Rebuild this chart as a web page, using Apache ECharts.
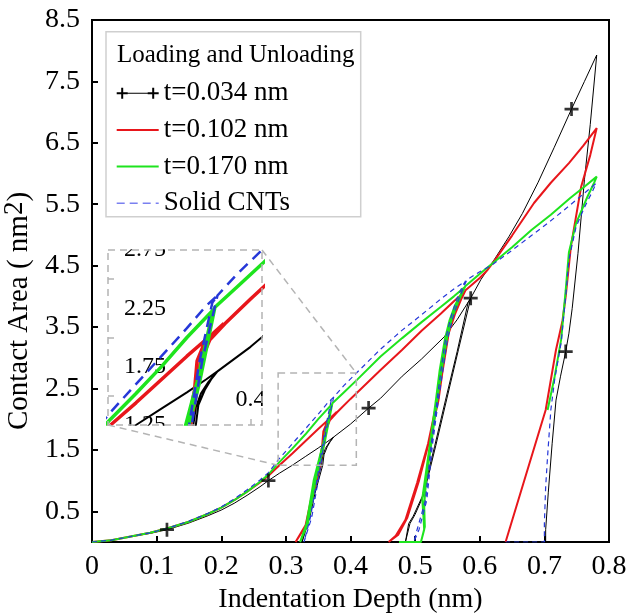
<!DOCTYPE html>
<html>
<head>
<meta charset="utf-8">
<script src="https://cdn.jsdelivr.net/npm/echarts@6/dist/echarts.min.js"></script>
<style>
html,body{margin:0;padding:0;background:#fff}
#chart{width:627px;height:613px}
</style>
</head>
<body>
<div id="chart"></div>
<script>
// Contact area vs indentation depth: load, partial unload/reload cycles, final unload.
const xTicks = [0, 0.1, 0.2, 0.3, 0.4, 0.5, 0.6, 0.7, 0.8];
const yTickLabels = [0.5, 1.5, 2.5, 3.5, 4.5, 5.5, 6.5, 7.5, 8.5];

// t = 0.034 nm wall thickness
const t034 = [
  [0,0],[0.03,0.03],[0.06,0.09],[0.09,0.14],[0.116,0.2],[0.15,0.31],[0.18,0.43],[0.2,0.52],
  [0.22,0.63],[0.24,0.76],[0.26,0.9],[0.273,1.0],[0.29,1.12],[0.31,1.25],[0.33,1.39],
  [0.35,1.53],[0.365,1.64],[0.374,1.71],
  [0.367,1.62],[0.361,1.52],[0.357,1.4],[0.355,1.25],[0.343,0.79],[0.335,0.4],[0.325,0],
  [0.327,0],[0.337,0.4],[0.345,0.79],[0.357,1.25],[0.359,1.42],[0.364,1.55],[0.369,1.64],[0.374,1.71],
  [0.4,1.92],[0.428,2.18],[0.4465,2.34],[0.48,2.7],[0.51,2.98],[0.545,3.34],[0.565,3.62],[0.586,3.97],
  [0.582,3.9],[0.565,3.1],[0.547,2.31],[0.53,1.55],[0.511,0.74],[0.497,0.42],[0.49,0.3],[0.485,0],
  [0.487,0],[0.492,0.3],[0.5,0.45],[0.513,0.76],[0.532,1.57],[0.549,2.33],[0.567,3.13],[0.586,3.97],
  [0.6016,4.27],[0.622,4.59],[0.645,4.97],[0.666,5.35],[0.69,5.85],[0.715,6.42],[0.742,7.05],
  [0.762,7.5],[0.781,7.93],
  [0.771,6.8],[0.762,5.9],[0.752,4.7],[0.743,3.8],[0.738,3.4],[0.733,3.1],[0.725,2.7],
  [0.718,2.31],[0.712,1.6],[0.706,0.8],[0.702,0.2],[0.702,0]
];
// marker points along the t = 0.034 nm curve
const t034Marks = [[0.116,0.2],[0.273,1.0],[0.428,2.18],[0.586,3.97],[0.742,7.05],[0.733,3.1]];

// t = 0.102 nm
const t102 = [
  [0,0],[0.03,0.03],[0.06,0.09],[0.09,0.15],[0.116,0.22],[0.15,0.33],[0.18,0.46],[0.2,0.56],
  [0.22,0.68],[0.24,0.82],[0.26,0.97],[0.273,1.08],[0.29,1.25],[0.31,1.44],[0.33,1.64],
  [0.35,1.84],[0.37,2.03],[0.379,2.12],
  [0.372,2.04],[0.364,1.96],[0.358,1.8],[0.356,1.55],[0.35,1.2],[0.34,0.74],[0.33,0.25],[0.315,0],
  [0.318,0],[0.332,0.3],[0.342,0.76],[0.352,1.2],[0.358,1.55],[0.361,1.8],[0.368,1.98],[0.38,2.12],
  [0.4,2.33],[0.4465,2.8],[0.48,3.13],[0.51,3.44],[0.54,3.72],[0.56,3.92],[0.575,4.06],
  [0.57,3.95],[0.56,3.7],[0.55,3.4],[0.54,2.75],[0.534,2.3],[0.52,1.6],[0.503,0.96],[0.485,0.36],
  [0.47,0.1],[0.459,0],
  [0.462,0],[0.474,0.12],[0.488,0.4],[0.506,1.0],[0.522,1.65],[0.536,2.3],[0.542,2.75],[0.552,3.4],
  [0.562,3.72],[0.572,3.97],[0.578,4.1],
  [0.6,4.3],[0.612,4.43],[0.622,4.57],[0.65,4.99],[0.684,5.52],[0.71,5.85],[0.738,6.17],
  [0.76,6.45],[0.781,6.74],
  [0.771,6.3],[0.757,5.79],[0.741,4.81],[0.733,4.0],[0.728,3.6],[0.718,3.13],[0.702,2.15],[0.64,0]
];

// t = 0.170 nm
const t170 = [
  [0,0],[0.03,0.03],[0.06,0.09],[0.09,0.15],[0.116,0.22],[0.15,0.33],[0.18,0.46],[0.2,0.56],
  [0.22,0.68],[0.24,0.82],[0.26,0.98],[0.273,1.1],[0.29,1.3],[0.31,1.52],[0.33,1.75],
  [0.35,2.0],[0.371,2.24],
  [0.369,2.16],[0.358,1.62],[0.343,1.0],[0.332,0.3],[0.322,0],
  [0.324,0],[0.334,0.3],[0.346,1.0],[0.36,1.62],[0.372,2.26],
  [0.39,2.44],[0.41,2.64],[0.4465,3.02],[0.48,3.32],[0.51,3.58],[0.54,3.83],[0.56,4.0],[0.577,4.15],
  [0.573,4.08],[0.562,3.86],[0.553,3.6],[0.546,3.3],[0.538,2.8],[0.532,2.3],[0.523,1.6],[0.515,1.0],
  [0.511,0.7],[0.513,0.4],[0.514,0.2],[0.509,0],[0.475,0],
  [0.509,0],[0.515,0.25],[0.514,0.6],[0.517,1.0],[0.525,1.6],[0.534,2.3],[0.541,2.8],[0.549,3.3],
  [0.557,3.64],[0.567,3.92],[0.578,4.17],
  [0.6016,4.38],[0.62,4.54],[0.65,4.8],[0.68,5.08],[0.71,5.33],[0.74,5.6],[0.76,5.77],[0.781,5.95],
  [0.777,5.85],[0.767,5.63],[0.749,5.19],[0.738,4.72],[0.733,4.1],[0.726,3.3],[0.716,2.7],[0.705,2.15]
];

// solid CNTs
const solid = [
  [0,0],[0.03,0.03],[0.06,0.09],[0.09,0.15],[0.116,0.22],[0.15,0.34],[0.18,0.47],[0.2,0.57],
  [0.22,0.7],[0.24,0.85],[0.26,1.01],[0.273,1.13],[0.29,1.36],[0.31,1.6],[0.33,1.84],
  [0.35,2.08],[0.365,2.27],[0.374,2.36],
  [0.37,2.3],[0.36,1.8],[0.348,1.0],[0.338,0.4],[0.328,0],
  [0.33,0],[0.34,0.4],[0.35,1.0],[0.362,1.8],[0.374,2.36],
  [0.39,2.55],[0.41,2.76],[0.4465,3.14],[0.48,3.45],[0.51,3.7],[0.54,3.96],[0.56,4.12],[0.578,4.25],
  [0.574,4.18],[0.564,3.95],[0.555,3.65],[0.547,3.3],[0.54,2.8],[0.534,2.31],[0.525,1.6],
  [0.516,0.68],[0.503,0.2],[0.498,0],
  [0.5,0],[0.506,0.2],[0.518,0.68],[0.527,1.6],[0.536,2.31],[0.543,2.8],[0.55,3.3],[0.559,3.67],
  [0.568,3.97],[0.58,4.27],
  [0.6,4.4],[0.62,4.52],[0.65,4.75],[0.68,4.99],[0.705,5.19],[0.73,5.4],[0.755,5.62],[0.78,5.84],
  [0.774,5.7],[0.762,5.45],[0.749,5.13],[0.738,4.6],[0.733,4.0],[0.726,3.25],[0.716,2.65],
  [0.71,2.15],[0.705,1.4],[0.702,0.9],[0.7,0.3],[0.7,0],[0.64,0]
];

// zoomed window shown in the inset
const insetX = [0.288, 0.409];
const insetY = [1.25, 2.75];
const insetXLabels = [0.4];
const insetYLabels = [1.25, 1.75, 2.25, 2.75];
const insetYTicks = [1.5, 2.0, 2.5];

const names = ['t=0.034 nm', 't=0.102 nm', 't=0.170 nm', 'Solid CNTs'];
const colors = { black: '#000000', red: '#e8161b', green: '#1ee41e', blue: '#2638d8' };
const serif = '"Liberation Serif", "Times New Roman", serif';
const gray = '#b4b4b4';

const mainGrid = { left: 92, top: 20, width: 517, height: 522 };
const insetGrid = { left: 108, top: 250, width: 154, height: 175 };

const plusPath = 'path://M0,5.25H13V7.75H0Z M5.25,0H7.75V13H5.25Z';

function lineSeries(name, data, color, width, dashed, inset) {
  return {
    type: 'line', name, data,
    xAxisIndex: inset ? 1 : 0, yAxisIndex: inset ? 1 : 0,
    symbol: 'none', smooth: false, clip: true, silent: true, animation: false,
    lineStyle: { color, width, type: dashed ? (inset ? [11, 7] : [5, 4]) : 'solid' },
    itemStyle: { color },
    z: inset ? 5 : 2
  };
}

const chart = echarts.init(document.getElementById('chart'), null, { renderer: 'canvas' });

const option = {
  backgroundColor: '#fff',
  animation: false,
  textStyle: { fontFamily: serif },
  title: {
    text: 'Loading and Unloading', left: 117, top: 43, padding: 0,
    textStyle: { fontFamily: serif, fontSize: 25, fontWeight: 'normal', color: '#000' }
  },
  legend: {
    orient: 'vertical', left: 116.7, top: 79.7, padding: 0,
    itemWidth: 42, itemHeight: 24, itemGap: 9.7, symbolKeepAspect: true,
    textStyle: { fontFamily: serif, fontSize: 27, color: '#000', lineHeight: 24 },
    data: [
      { name: names[0], icon: 'path://M0,4.5H11V6.5H0Z M4.5,0H6.5V11H4.5Z M11,5H31V6H11Z M31,4.5H42V6.5H31Z M35.5,0H37.5V11H35.5Z' },
      { name: names[1], icon: 'path://M0,0H42V2H0Z' },
      { name: names[2], icon: 'path://M0,0H42V2H0Z' },
      { name: names[3], icon: 'path://M0,0H8V1.5H0Z M13,0H21V1.5H13Z M26,0H34V1.5H26Z M39,0H42V1.5H39Z', itemStyle: { color: '#7a80f0' } }
    ]
  },
  grid: [
    Object.assign({ show: true, borderColor: '#000', borderWidth: 2, backgroundColor: 'transparent',
      containLabel: false, outerBoundsMode: 'none' }, mainGrid),
    Object.assign({ show: false, containLabel: false, outerBoundsMode: 'none' }, insetGrid)
  ],
  xAxis: [
    {
      type: 'value', gridIndex: 0, min: 0, max: 0.8, interval: 0.1,
      name: 'Indentation Depth (nm)', nameLocation: 'middle', nameGap: 35,
      nameTextStyle: { fontFamily: serif, fontSize: 28, color: '#000' },
      axisLine: { lineStyle: { color: '#000', width: 2 } },
      axisTick: { inside: true, length: 6, lineStyle: { color: '#000', width: 2 } },
      axisLabel: {
        customValues: xTicks, margin: 11, fontFamily: serif, fontSize: 28, color: '#000',
        formatter: v => (v === 0 ? '0' : v.toFixed(1))
      },
      splitLine: { show: false }
    },
    {
      type: 'value', gridIndex: 1, min: insetX[0], max: insetX[1],
      axisLine: { show: false },
      axisTick: { customValues: insetXLabels, inside: true, length: 6, lineStyle: { color: gray, width: 1.5 } },
      axisLabel: {
        customValues: insetXLabels, inside: true, margin: 13,
        fontFamily: serif, fontSize: 24, color: '#000', formatter: v => v.toFixed(1)
      },
      splitLine: { show: false }
    }
  ],
  yAxis: [
    {
      type: 'value', gridIndex: 0, min: 0, max: 8.5,
      name: '{a|Contact Area ( nm}{s|2}{a|)}', nameLocation: 'middle', nameGap: 49,
      nameTextStyle: {
        padding: [0, 60, 0, 0],
        rich: {
          a: { fontFamily: serif, fontSize: 29, color: '#000' },
          s: { fontFamily: serif, fontSize: 27, color: '#000', padding: [0, 0, 9, 0] }
        }
      },
      axisLine: { lineStyle: { color: '#000', width: 2 } },
      axisTick: { customValues: yTickLabels, inside: true, length: 6, lineStyle: { color: '#000', width: 2 } },
      axisLabel: {
        customValues: yTickLabels, margin: 12, fontFamily: serif, fontSize: 28, color: '#000',
        formatter: v => v.toFixed(1)
      },
      splitLine: { show: false }
    },
    {
      type: 'value', gridIndex: 1, min: insetY[0], max: insetY[1],
      axisLine: { show: false },
      axisTick: { customValues: insetYTicks, inside: true, length: 6, lineStyle: { color: gray, width: 1.5 } },
      axisLabel: {
        customValues: insetYLabels, inside: true, margin: 16,
        fontFamily: serif, fontSize: 24, color: '#000', formatter: v => v.toFixed(2)
      },
      splitLine: { show: false }
    }
  ],
  series: [
    lineSeries(names[0], t034, colors.black, 1, false, false),
    lineSeries(names[1], t102, colors.red, 2, false, false),
    lineSeries(names[2], t170, colors.green, 2, false, false),
    lineSeries(names[3], solid, colors.blue, 1.2, true, false),
    {
      type: 'scatter', name: names[0], data: t034Marks, xAxisIndex: 0, yAxisIndex: 0,
      symbol: plusPath, symbolSize: 14, itemStyle: { color: '#000' }, silent: true, z: 6
    },
    lineSeries(names[0], t034, colors.black, 2, false, true),
    lineSeries(names[1], t102, colors.red, 3.5, false, true),
    lineSeries(names[2], t170, colors.green, 3.5, false, true),
    lineSeries(names[3], solid, colors.blue, 2.5, true, true)
  ]
};

chart.setOption(option);

// Legend frame, inset frame, zoom-window rectangle and its connectors
const tl = chart.convertToPixel({ xAxisIndex: 0, yAxisIndex: 0 }, [insetX[0], insetY[1]]);
const br = chart.convertToPixel({ xAxisIndex: 0, yAxisIndex: 0 }, [insetX[1], insetY[0]]);
const iL = insetGrid.left, iT = insetGrid.top;
const iR = iL + insetGrid.width, iB = iT + insetGrid.height;
const dash = { stroke: gray, lineWidth: 1.5, lineDash: [7, 5], fill: null };

chart.setOption({
  graphic: [
    { type: 'rect', z: 1, shape: { x: 106, y: 31.7, width: 254.7, height: 185 },
      style: { fill: '#fff', stroke: '#cfcfcf', lineWidth: 1.5 } },
    // trim inset tick labels at the inset border
    { type: 'rect', z: 10, shape: { x: 100, y: iT - 20, width: 170, height: 19.3 }, style: { fill: '#fff' } },
    { type: 'rect', z: 10, shape: { x: 100, y: iB + 0.7, width: 170, height: 20 }, style: { fill: '#fff' } },
    { type: 'rect', z: 10, shape: { x: iR + 0.7, y: iB - 45, width: 30, height: 44 }, style: { fill: '#fff' } },
    { type: 'rect', z: 11, shape: { x: iL, y: iT, width: insetGrid.width, height: insetGrid.height }, style: dash },
    { type: 'rect', z: 11, shape: { x: tl[0], y: tl[1], width: br[0] - tl[0], height: br[1] - tl[1] }, style: dash },
    { type: 'line', z: 11, shape: { x1: iL, y1: iB, x2: tl[0], y2: br[1] }, style: dash },
    { type: 'line', z: 11, shape: { x1: iR, y1: iT, x2: br[0], y2: tl[1] }, style: dash }
  ]
});
</script>
</body>
</html>
